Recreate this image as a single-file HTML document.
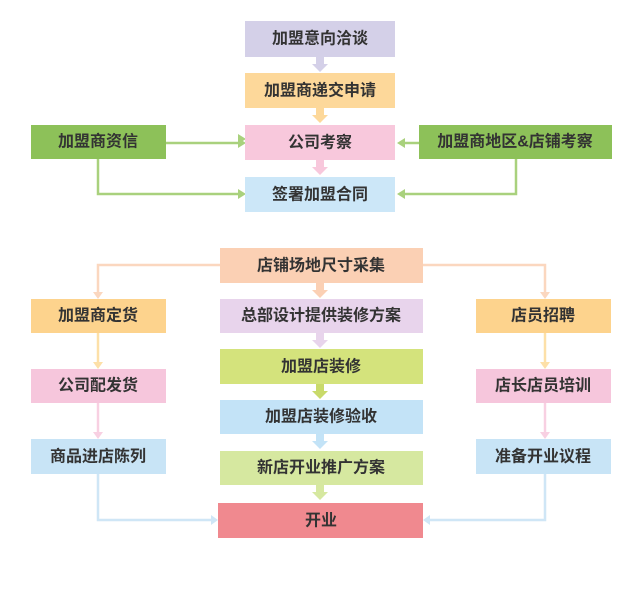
<!DOCTYPE html>
<html><head><meta charset="utf-8"><style>
html,body{margin:0;padding:0;background:#fff}
svg text{font-family:"Liberation Sans","Noto Sans CJK SC",sans-serif;font-size:16px;font-weight:bold;fill:#333;text-anchor:middle;dominant-baseline:central}
</style></head><body>
<svg width="640" height="593" viewBox="0 0 640 593" xmlns="http://www.w3.org/2000/svg">
<g fill="none" stroke-width="2.5">
<path d="M166 143H240" stroke="#a9d17d"/><path d="M98 159V194H240" stroke="#a9d17d"/>
<path d="M419 143H403" stroke="#a9d17d"/><path d="M516 159V194H403" stroke="#a9d17d"/>
<path d="M220 265H98V293" stroke="#fbd7bf"/><path d="M423 265H545V293" stroke="#fbd7bf"/>
<path d="M98 333V363" stroke="#fde0a8"/><path d="M545 333V363" stroke="#fde0a8"/>
<path d="M98 403V433" stroke="#f8d0e2"/><path d="M545 403V433" stroke="#f8d0e2"/>
<path d="M98 474V520H212" stroke="#cfe6f6"/><path d="M545 474V520H430" stroke="#cfe6f6"/>
</g>
<g>
<path d="M246 139l-8-5v10z" fill="#a9d17d" transform="translate(0,4) translate(0,-4)"/>
<path d="M238 138l8 5-8 5z" fill="#a9d17d"/>
<path d="M405 138l-8 5 8 5z" fill="#a9d17d"/>
<path d="M238 189l8 5-8 5z" fill="#a9d17d"/>
<path d="M405 189l-8 5 8 5z" fill="#a9d17d"/>
<path d="M93 292l5 7 5-7z" fill="#fbd7bf"/><path d="M540 292l5 7 5-7z" fill="#fbd7bf"/>
<path d="M93 362l5 7 5-7z" fill="#fde0a8"/><path d="M540 362l5 7 5-7z" fill="#fde0a8"/>
<path d="M93 432l5 7 5-7z" fill="#f8d0e2"/><path d="M540 432l5 7 5-7z" fill="#f8d0e2"/>
<path d="M211 515l7 5-7 5z" fill="#cfe6f6"/><path d="M430 515l-7 5 7 5z" fill="#cfe6f6"/>
</g>
<!-- center small arrows -->
<g>
<path d="M316 57h8v7h4l-8 8-8-8h4z" fill="#d4d0e8"/>
<path d="M316 108h8v7h4l-8 8-8-8h4z" fill="#fdd89a"/>
<path d="M316 160h8v7h4l-8 8-8-8h4z" fill="#f8c8dc"/>
<path d="M316 283h8v7h4l-8 8-8-8h4z" fill="#fbd0b4"/>
<path d="M316 333h8v7h4l-8 8-8-8h4z" fill="#e8d4ec"/>
<path d="M316 384h8v7h4l-8 8-8-8h4z" fill="#c9da6a"/>
<path d="M316 434h8v7h4l-8 8-8-8h4z" fill="#c3e3f7"/>
<path d="M316 485h8v7h4l-8 8-8-8h4z" fill="#d6e8a0"/>
</g>
<g>
<rect x="245" y="21" width="150" height="36" fill="#d4d0e8"/><text x="320" y="39">加盟意向洽谈</text>
<rect x="245" y="73" width="150" height="35" fill="#fdd89a"/><text x="320" y="91">加盟商递交申请</text>
<rect x="245" y="125" width="150" height="35" fill="#f8c8dc"/><text x="320" y="143">公司考察</text>
<rect x="245" y="177" width="150" height="35" fill="#cce7f8"/><text x="320" y="195">签署加盟合同</text>
<rect x="31" y="125" width="135" height="34" fill="#8dc159"/><text x="98" y="142">加盟商资信</text>
<rect x="419" y="125" width="193" height="34" fill="#8dc159"/><text x="515" y="142">加盟商地区&amp;店铺考察</text>

<rect x="220" y="248" width="203" height="35" fill="#fbd0b4"/><text x="321" y="266">店铺场地尺寸采集</text>
<rect x="220" y="299" width="203" height="34" fill="#e8d4ec"/><text x="321" y="316">总部设计提供装修方案</text>
<rect x="220" y="349" width="203" height="35" fill="#d4e37c"/><text x="321" y="367">加盟店装修</text>
<rect x="220" y="400" width="203" height="34" fill="#c3e3f7"/><text x="321" y="417">加盟店装修验收</text>
<rect x="220" y="451" width="203" height="34" fill="#d6e8a0"/><text x="321" y="468">新店开业推广方案</text>
<rect x="218" y="503" width="205" height="35" fill="#f0898f"/><text x="321" y="521">开业</text>

<rect x="31" y="299" width="135" height="34" fill="#fdd38d"/><text x="98" y="316">加盟商定货</text>
<rect x="31" y="369" width="135" height="34" fill="#f6c6dc"/><text x="98" y="386">公司配发货</text>
<rect x="31" y="439" width="135" height="35" fill="#c8e4f6"/><text x="98" y="457">商品进店陈列</text>
<rect x="476" y="299" width="135" height="34" fill="#fdd38d"/><text x="543" y="316">店员招聘</text>
<rect x="476" y="369" width="135" height="34" fill="#f6c6dc"/><text x="543" y="386">店长店员培训</text>
<rect x="476" y="439" width="135" height="35" fill="#c8e4f6"/><text x="543" y="457">准备开业议程</text>
</g>
</svg>
</body></html>
